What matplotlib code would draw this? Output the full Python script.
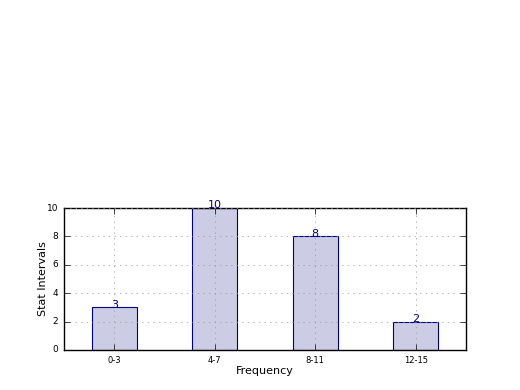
import matplotlib
matplotlib.use("Agg")
import matplotlib.pyplot as plt
import numpy as np

plt.style.use("classic")

categories = ["0-3", "4-7", "8-11", "12-15"]
values = [3, 10, 8, 2]

fig = plt.figure(figsize=(5.2, 3.9), dpi=100)
ax = fig.add_axes([0.123, 0.1026, 0.773, 0.364])
x = np.arange(len(categories))
ax.bar(x, values, width=0.45, align="center", color="navy", alpha=0.2, edgecolor="none")
ax.bar(x, values, width=0.45, align="center", fill=False, edgecolor="navy", linewidth=0.8)
for xi, v in zip(x, values):
    ax.text(xi, v - 0.15, str(v), ha="center", va="bottom", color="navy", fontsize=8)
ax.set_xlim(-0.5, 3.5)
ax.set_ylim(0, 10)
ax.set_xticks(x)
ax.set_xticklabels(categories, fontsize=6)
ax.set_yticks(np.arange(0, 11, 2))
ax.tick_params(axis="y", labelsize=6.5)
ax.grid(True, linestyle=":", color="0.6")
ax.set_axisbelow(False)
ax.set_xlabel("Frequency", fontsize=8, labelpad=1)
ax.set_ylabel("Stat Intervals", fontsize=8, labelpad=-1)
fig.savefig("out.png", dpi=100)
